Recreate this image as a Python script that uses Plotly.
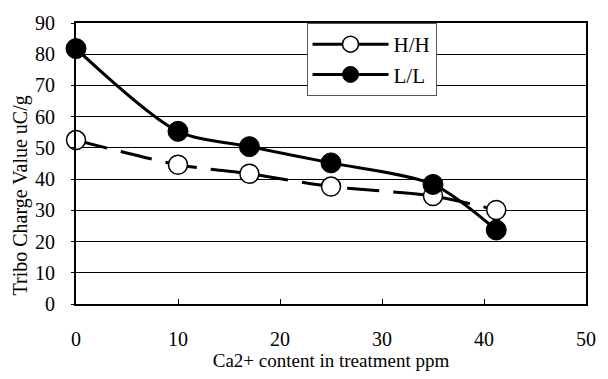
import plotly.graph_objects as go

ca_ppm = [0, 10, 17, 25, 35, 41.2]
hh_values = [52.5, 44.6, 41.7, 37.6, 34.6, 30.1]
ll_values = [81.8, 55.3, 50.4, 45.2, 38.3, 23.7]

x_ticks = [0, 10, 20, 30, 40, 50]
y_ticks = [0, 10, 20, 30, 40, 50, 60, 70, 80, 90]

FONT = "Liberation Serif"

fig = go.Figure()
fig.add_trace(go.Scatter(
    x=ca_ppm, y=hh_values, name="H/H", mode="lines+markers", cliponaxis=False,
    line=dict(color="black", width=3, dash="32px,14px", shape="spline", smoothing=0.8),
    marker=dict(symbol="circle", size=19, color="white", line=dict(color="black", width=1.5)),
))
fig.add_trace(go.Scatter(
    x=ca_ppm, y=ll_values, name="L/L", mode="lines+markers", cliponaxis=False,
    line=dict(color="black", width=3, shape="spline", smoothing=0.8),
    marker=dict(symbol="circle", size=20, color="black", line=dict(color="black", width=1)),
))

fig.update_layout(
    width=608, height=379,
    margin=dict(l=76, r=21, t=18, b=67),
    paper_bgcolor="white", plot_bgcolor="white",
    font=dict(family=FONT, size=20, color="black"),
    showlegend=True,
    legend=dict(
        x=0.452, y=1.0, xanchor="left", yanchor="top",
        bgcolor="white", bordercolor="#555", borderwidth=1,
        font=dict(family=FONT, size=21, color="black"),
        itemwidth=76, tracegroupgap=0,
    ),
    xaxis=dict(
        range=[0, 50], tickvals=x_ticks, ticktext=[str(v) for v in x_ticks],
        ticks="inside", ticklen=5, tickwidth=1, tickcolor="black",
        showline=True, linecolor="black", linewidth=2, mirror=True,
        showgrid=False, zeroline=False,
        ticklabelstandoff=16,
        tickfont=dict(family=FONT, size=20),
        title=dict(text="Ca2+ content in treatment ppm", font=dict(family=FONT, size=19), standoff=4),
    ),
    yaxis=dict(
        range=[0, 90], tickvals=y_ticks, ticktext=[str(v) for v in y_ticks],
        ticks="outside", ticklen=3, tickwidth=1, tickcolor="black",
        showline=True, linecolor="black", linewidth=2, mirror=True,
        showgrid=True, gridcolor="black", gridwidth=1, zeroline=False,
        ticklabelstandoff=12,
        tickfont=dict(family=FONT, size=20),
    ),
    annotations=[dict(
        text="Tribo Charge Value uC/g", textangle=-90,
        xref="paper", yref="paper", x=-0.108, y=0.386,
        xanchor="center", yanchor="middle", showarrow=False,
        font=dict(family=FONT, size=20, color="black"),
    )],
)

fig.write_html("out.html")
